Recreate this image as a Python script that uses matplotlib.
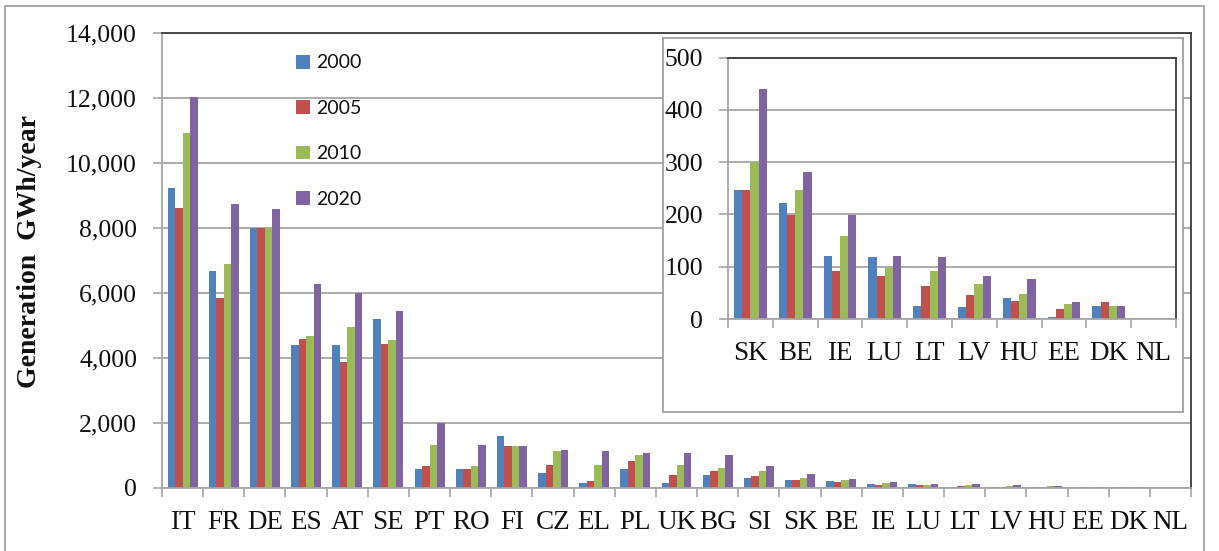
import numpy as np
import matplotlib
matplotlib.use("Agg")
import matplotlib.pyplot as plt
from matplotlib.patches import Rectangle, Patch
from matplotlib.ticker import FuncFormatter

# ---------------- data ----------------
countries = ['IT', 'FR', 'DE', 'ES', 'AT', 'SE', 'PT', 'RO', 'FI', 'CZ', 'EL', 'PL', 'UK',
             'BG', 'SI', 'SK', 'BE', 'IE', 'LU', 'LT', 'LV', 'HU', 'EE', 'DK', 'NL']
years = ['2000', '2005', '2010', '2020']
gen_2000 = [9240, 6680, 8000, 4390, 4390, 5210, 575, 575, 1590, 472, 154, 575, 154,
            410, 308, 247, 222, 120, 118, 25, 22, 41, 3, 25, 0]
gen_2005 = [8625, 5855, 8000, 4595, 3877, 4440, 667, 575, 1283, 718, 205, 820, 410,
            513, 359, 247, 198, 92, 83, 64, 45, 35, 19, 32, 0]
gen_2010 = [10910, 6880, 8000, 4690, 4944, 4543, 1333, 667, 1283, 1128, 718, 1026, 718,
            615, 513, 301, 247, 159, 98, 92, 67, 48, 29, 25, 0]
gen_2020 = [12040, 8730, 8575, 6277, 6010, 5455, 1990, 1333, 1283, 1180, 1128, 1077, 1077,
            1026, 667, 440, 282, 198, 120, 118, 83, 76, 32, 25, 0]
inset_start = 15          # inset shows SK ... NL
main_yticks = list(range(0, 14001, 2000))
inset_yticks = list(range(0, 501, 100))

colors = ['#4F81BD', '#C0504D', '#9BBB59', '#8064A2']
series = [gen_2000, gen_2005, gen_2010, gen_2020]

# ---------------- layout helpers ----------------
W, H = 1219, 551
fig = plt.figure(figsize=(W / 100, H / 100), dpi=100)
fig.patch.set_facecolor('white')


def px_rect(l, t, r, b):
    return [l / W, 1 - b / H, (r - l) / W, (b - t) / H]


SERIF = 'Liberation Serif'
GRID = '#A6A6A6'
DARK = '#3A3A3A'
TXT = '#111111'
XTICK_FS = 19.5
YTICK_FS = 18.5

# outer figure border (bottom edge off-canvas)
fig.add_artist(Rectangle((5 / W, -0.05), (1204 - 5) / W, 1 - 6 / H + 0.05,
                         transform=fig.transFigure, fill=False,
                         edgecolor='#A0A0A0', lw=1.3))


def style_axes(ax, cats, data, ymax, yticks, bw=0.182):
    n = len(cats)
    x = np.arange(n) + 0.5
    for k, (vals, c) in enumerate(zip(data, colors)):
        ax.bar(x + (k - 1.5) * bw, vals, width=bw, color=c, label=years[k],
               zorder=3, linewidth=0)
    ax.set_xlim(0, n)
    ax.set_ylim(0, ymax)
    ax.set_yticks(yticks)
    ax.yaxis.set_major_formatter(FuncFormatter(lambda v, p: f'{int(v):,}'))
    ax.set_xticks(np.arange(n + 1))
    ax.set_xticklabels([])
    ax.set_xticks(x, minor=True)
    ax.set_xticklabels(cats, minor=True)
    ax.tick_params(axis='x', which='major', length=6.5, width=1.2, color=GRID, direction='out')
    ax.tick_params(axis='x', which='minor', length=0, pad=15.5, labelsize=XTICK_FS,
                   labelcolor=TXT)
    ax.tick_params(axis='y', length=6.5, width=1.2, color=GRID, direction='out', pad=11.5,
                   labelsize=YTICK_FS, labelcolor=TXT)
    for lab in ax.get_xticklabels(minor=True) + ax.get_yticklabels():
        lab.set_family(SERIF)
    ax.yaxis.grid(True, color=GRID, lw=1.3, zorder=0)
    ax.set_axisbelow(True)
    ax.spines['left'].set_color(GRID)
    ax.spines['bottom'].set_color(GRID)
    ax.spines['top'].set_color(DARK)
    ax.spines['right'].set_color(DARK)
    for s in ax.spines.values():
        s.set_linewidth(1.3)
    ax.spines['bottom'].set_zorder(4)


# ---------------- main chart ----------------
ax = fig.add_axes(px_rect(162, 33, 1191, 488))
style_axes(ax, countries, series, 14000, main_yticks)

handles = [Patch(facecolor=c, edgecolor='none') for c in colors]
leg = ax.legend(handles, years, loc='upper left',
                bbox_to_anchor=(296 / W, 1 - 54.5 / H), bbox_transform=fig.transFigure,
                frameon=False, borderpad=0, borderaxespad=0,
                prop={'family': 'Lato', 'size': 14},
                handlelength=0.72, handleheight=0.72, handletextpad=0.3,
                labelspacing=1.46)
for t in leg.get_texts():
    t.set_color(TXT)

fig.text(30 / W, 1 - 252 / H, 'Generation  GWh/year', rotation=90, ha='center',
         va='center', family=SERIF, fontweight='bold', fontsize=20, color=TXT)

# ---------------- inset ----------------
frame = fig.add_axes(px_rect(663, 38, 1183, 412))
frame.set_xticks([])
frame.set_yticks([])
frame.set_facecolor('white')
for s in frame.spines.values():
    s.set_color('#A0A0A0')
    s.set_linewidth(1.3)

iax = fig.add_axes(px_rect(728, 57.5, 1176, 319))
style_axes(iax, countries[inset_start:], [s[inset_start:] for s in series], 500,
           inset_yticks)

fig.savefig('out.png', dpi=100)
